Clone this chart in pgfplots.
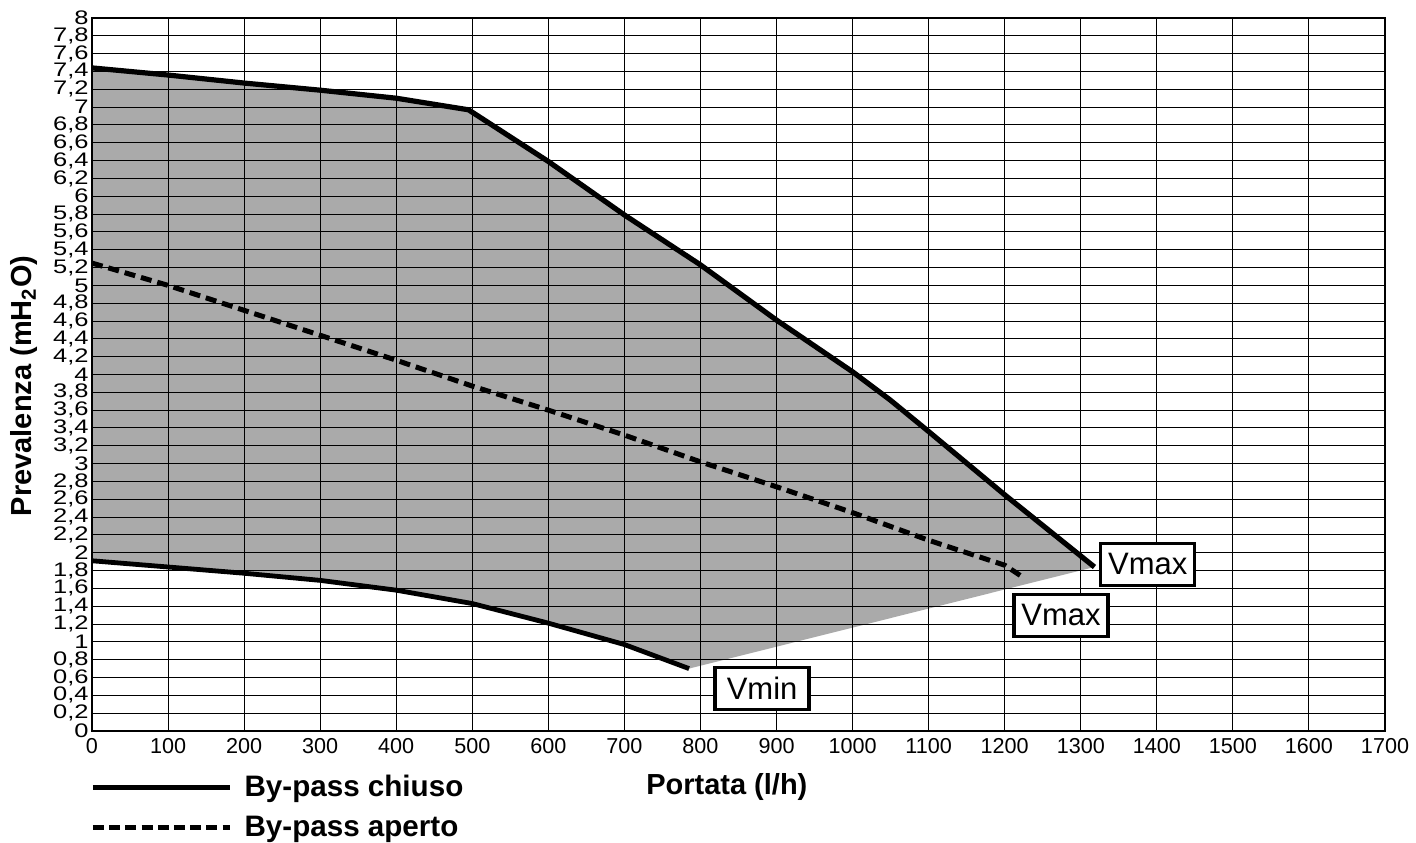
\documentclass[border=0pt]{standalone}
\usepackage{pgfplots}
\pgfplotsset{compat=1.18}
\usepackage{fontspec}
\setmainfont{Liberation Sans}
\setsansfont{Liberation Sans}
\newfontfamily\widefont[FakeStretch=1.3]{Liberation Sans}

\definecolor{area}{RGB}{170,170,170}

\begin{document}
\begin{tikzpicture}
\begin{axis}[
    scale only axis,
    width=646.5pt, height=356.5pt,
    xmin=0, xmax=1700, ymin=0, ymax=8,
    xtick distance=100, ytick distance=0.2,
    grid=major,
    grid style={black, line width=0.5pt},
    axis line style={black, line width=0.6pt},
    major tick length=0pt,
    axis on top,
    /pgf/number format/assume math mode=true,
    /pgf/number format/use comma,
    /pgf/number format/1000 sep={},
    xticklabel style={font=\fontsize{10.8}{12}\selectfont},
    yticklabel style={font=\widefont\fontsize{9.8}{10}\selectfont,
        inner xsep=1.5pt, inner ysep=0pt},
    xlabel={\textbf{Portata (l/h)}},
    ylabel={\textbf{Prevalenza (mH\textsubscript{2}O)}},
    label style={font=\fontsize{14.5}{16}\selectfont},
    xlabel style={at={(axis description cs:0.491,-0.0785)}, anchor=center},
    ylabel style={at={(axis description cs:-0.0526,0.484)}, anchor=center},
    legend cell align=left,
    legend style={draw=none, fill=none, at={(0,0)}, anchor=north west,
        yshift=-18pt, xshift=-4pt, font=\bfseries\fontsize{14.8}{16}\selectfont,
        row sep=4pt, nodes={inner xsep=6pt}},
    legend image code/.code={\draw[#1] (0pt,0pt) -- (68.5pt,0pt);},
]
% shaded operating field
\addplot[draw=none, fill=area, forget plot] coordinates {
    (0,7.44) (100,7.36) (200,7.27) (300,7.19) (400,7.10) (495,6.97)
    (600,6.39) (700,5.79) (800,5.23) (900,4.61) (1000,4.03) (1050,3.71)
    (1100,3.36) (1200,2.65) (1318,1.84)
    (785,0.70)
    (700,0.97) (600,1.21) (500,1.43) (400,1.58) (300,1.69) (200,1.77) (100,1.84) (0,1.91)
} -- cycle;
% By-pass chiuso, max
\addplot[black, line width=2.6pt, forget plot] coordinates {
    (0,7.44) (100,7.36) (200,7.27) (300,7.19) (400,7.10) (495,6.97)
    (600,6.39) (700,5.79) (800,5.23) (900,4.61) (1000,4.03) (1050,3.71)
    (1100,3.36) (1200,2.65) (1318,1.84)
};
% By-pass chiuso, min
\addplot[black, line width=2.4pt, forget plot] coordinates {
    (0,1.91) (100,1.84) (200,1.77) (300,1.69) (400,1.58) (500,1.43)
    (600,1.21) (700,0.97) (785,0.70)
};
% By-pass aperto
\addplot[black, line width=2.5pt, dash pattern=on 5.5pt off 3pt, forget plot] coordinates {
    (0,5.25) (100,5.00) (200,4.72) (300,4.44) (400,4.16) (500,3.87)
    (600,3.60) (700,3.32) (800,3.02) (900,2.74) (1000,2.45) (1100,2.14)
    (1200,1.86) (1225,1.72)
};
\addlegendimage{black, line width=2.6pt}
\addlegendentry{By-pass chiuso}
\addlegendimage{black, line width=2.6pt, dash pattern=on 5.5pt off 2.6pt}
\addlegendentry{By-pass aperto}

\coordinate (vmaxA) at (axis cs:1388,1.87);
\coordinate (vmaxB) at (axis cs:1274,1.30);
\coordinate (vmin) at (axis cs:881,0.48);
\end{axis}
\tikzset{lbl/.style={draw=black, line width=1.6pt, fill=white,
    font=\fontsize{15.5}{17}\selectfont, inner xsep=2pt, inner ysep=2pt,
    minimum width=47pt, minimum height=21pt}}
\node[lbl] at (vmaxA) {Vmax};
\node[lbl] at (vmaxB) {Vmax};
\node[lbl] at (vmin) {Vmin};
\pgfresetboundingbox
\path ([xshift=-46pt,yshift=-56pt]current axis.south west) rectangle
      ([xshift=15.5pt,yshift=9pt]current axis.north east);
\end{tikzpicture}
\end{document}
